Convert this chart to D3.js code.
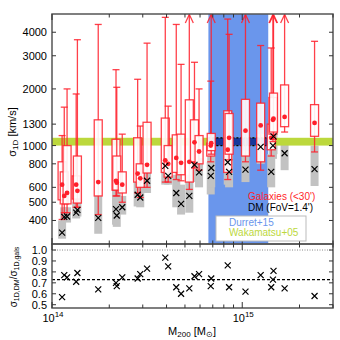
<!DOCTYPE html>
<html>
<head>
<meta charset="utf-8">
<script src="https://cdn.jsdelivr.net/npm/d3@7"></script>
<style>
body { margin: 0; background: #fff; }
svg { font-family: "Liberation Sans", Arial, sans-serif; }
</style>
</head>
<body>
<div id="chart"></div>
<script>
// cluster data (sorted by mass)
const mass     = [1.13e14,1.16e14,1.20e14,1.34e14,1.36e14,1.75e14,2.17e14,2.19e14,2.34e14,2.82e14,
                  2.91e14,3.16e14,3.94e14,4.08e14,4.50e14,4.77e14,5.27e14,5.61e14,5.93e14,6.83e14,
                  6.87e14,8.39e14,8.53e14,1.04e15,1.25e15,1.42e15,1.45e15,1.46e15,1.67e15,2.40e15];
const galSigma = [620,540,560,620,575,640,650,635,620,710, 670,790,835,800,860,810,820,1040,930,1000,
                  1030,950,1100,1200,1280,1100,1370,1390,1420,1320];
const boxLo    = [515,490,490,520,495,540,580,580,560,640, 600,715,720,680,720,700,640,820,800,880,
                  940,720,900,880,820,950,1150,1180,1260,1120];
const boxHi    = [820,725,1000,690,880,1370,1080,880,725,1100, 800,1330,1400,1000,1140,1150,1750,1370,1130,1030,
                  1160,1530,1480,1760,1680,1300,1800,1900,2100,1650];
const whiskLo  = [405,440,440,470,470,430,540,540,500,560, 530,600,640,640,660,650,585,760,740,820,
                  900,660,840,820,740,880,1050,1080,1180,925];
// 9999 = continues above the plotted range (drawn as an arrow)
const whiskHi  = [1130,1600,2000,1880,3650,4400,2530,2040,1150,2250, 1270,3500,4800,1620,4400,2700,9999,2770,2000,2200,
                  9999,4700,3900,9999,3400,3300,9999,9999,9999,3580];
const dmSigma  = [345,418,420,440,455,413,460,425,470,548, 530,650,780,690,560,490,540,790,720,690,
                  760,815,725,745,985,725,1000,1120,910,750];
const greyLo   = [320,395,390,410,420,340,380,370,430,475, 470,560,620,620,470,430,440,640,600,550,
                  600,620,600,640,800,600,850,900,740,610];
const greyHi   = [400,470,470,500,520,540,580,560,540,640, 620,745,850,800,700,620,700,950,860,820,
                  900,1000,900,940,1150,900,1200,1300,1060,1000];
const ratio    = [0.57,0.77,0.75,0.71,0.79,0.64,0.70,0.67,0.75,0.74, 0.78,0.83,0.93,0.85,0.66,0.60,0.65,0.76,0.78,0.67,
                  0.74,0.86,0.66,0.62,0.77,0.66,0.73,0.81,0.65,0.58];

// literature ranges
const durretMass  = [6.64e14, 1.37e15];
const durretSigma = [1000, 1100];
const wakaSigma   = [1000, 1100];
const meanRatio   = 0.73;

const sigmaTicks = [400,500,600,800,1000,1300,2000,3000,4000];
const ratioTicks = [0.5,0.6,0.7,0.8,0.9,1.0];
const massMajor  = [1e14, 1e15];
const massMinor  = [2e14,3e14,4e14,5e14,6e14,7e14,8e14,9e14,2e15,3e15];

const red = "#ff1f2a";
const frameCol = "#555";

////////////////////////////////////////////////////////////////////////
let svg = d3.select("#chart").append("svg")
  .attr("width", 340).attr("height", 340);

let pLeft = 52, pRight = 333, pTop = 14, pMid = 244, pBottom = 308;

let xScale = d3.scaleLog().domain([1e14, 3e15]).range([pLeft, pRight]);
let yScale = d3.scaleLog().domain([300, 5000]).range([pMid, pTop]);
let rScale = d3.scaleLinear().domain([0.47, 1.055]).range([pBottom, pMid]);

svg.append("clipPath").attr("id", "clipTop")
  .append("rect").attr("x", pLeft).attr("y", pTop).attr("width", pRight-pLeft).attr("height", pMid-pTop);

let topG = svg.append("g").attr("clip-path", "url(#clipTop)");

// Durret+15 mass range
topG.append("rect")
  .attr("x", xScale(durretMass[0])).attr("y", pTop)
  .attr("width", xScale(durretMass[1]) - xScale(durretMass[0]))
  .attr("height", pMid - pTop)
  .attr("fill", "#6a96ec");

// grey DM bars
topG.append("g").selectAll("rect")
  .data(mass).enter().append("rect")
  .attr("x", d => xScale(d) - 4)
  .attr("y", (d,i) => yScale(greyHi[i]))
  .attr("width", 8)
  .attr("height", (d,i) => yScale(greyLo[i]) - yScale(greyHi[i]))
  .attr("fill", "#c2c2c2");

// Wakamatsu+05 band
topG.append("rect")
  .attr("x", pLeft).attr("width", pRight-pLeft)
  .attr("y", yScale(wakaSigma[1]))
  .attr("height", yScale(wakaSigma[0]) - yScale(wakaSigma[1]))
  .attr("fill", "#bcd83c");

// Durret+15 sigma range
topG.append("rect")
  .attr("x", xScale(durretMass[0])).attr("width", xScale(durretMass[1]) - xScale(durretMass[0]))
  .attr("y", yScale(durretSigma[1]))
  .attr("height", yScale(durretSigma[0]) - yScale(durretSigma[1]))
  .attr("fill", "#15389a");
durretSigma.forEach(function(s){
  topG.append("line")
    .attr("x1", xScale(durretMass[0])).attr("x2", xScale(durretMass[1]))
    .attr("y1", yScale(s)).attr("y2", yScale(s))
    .attr("stroke", "black").attr("stroke-width", 1.2)
    .attr("stroke-dasharray", "2,2");
});

// galaxy whiskers + boxes
let gal = topG.append("g").attr("stroke", red).attr("stroke-opacity", 0.85).attr("stroke-width", 1.3);
mass.forEach(function(m, i) {
  let x = xScale(m);
  let hiY = whiskHi[i] > 5000 ? pTop : yScale(whiskHi[i]);
  gal.append("line").attr("x1", x).attr("x2", x)
    .attr("y1", yScale(whiskLo[i])).attr("y2", hiY);
  gal.append("line").attr("x1", x-3.5).attr("x2", x+3.5)
    .attr("y1", yScale(whiskLo[i])).attr("y2", yScale(whiskLo[i]));
  if (whiskHi[i] > 5000) {
    gal.append("path").attr("fill", "none")
      .attr("d", "M" + (x-4) + "," + (pTop+9) + " L" + x + "," + (pTop+0.5) + " L" + (x+4) + "," + (pTop+9));
  } else {
    gal.append("line").attr("x1", x-3.5).attr("x2", x+3.5)
      .attr("y1", hiY).attr("y2", hiY);
  }
  gal.append("rect")
    .attr("x", x-4).attr("width", 8)
    .attr("y", yScale(boxHi[i]))
    .attr("height", yScale(boxLo[i]) - yScale(boxHi[i]))
    .attr("fill", "white").attr("fill-opacity", 0.9);
});

topG.append("g").selectAll("circle")
  .data(mass).enter().append("circle")
  .attr("cx", d => xScale(d))
  .attr("cy", (d,i) => yScale(galSigma[i]))
  .attr("r", 2.4)
  .attr("fill", red);

// DM crosses
function cross(g, x, y) {
  g.append("path")
    .attr("d", "M" + (x-3) + "," + (y-3) + " L" + (x+3) + "," + (y+3) +
               " M" + (x-3) + "," + (y+3) + " L" + (x+3) + "," + (y-3))
    .attr("stroke", "black").attr("stroke-width", 1.2);
}
let crossG = topG.append("g");
mass.forEach((m, i) => cross(crossG, xScale(m), yScale(dmSigma[i])));

// bottom panel
let botG = svg.append("g");
botG.append("line")
  .attr("x1", pLeft).attr("x2", pRight)
  .attr("y1", rScale(1)).attr("y2", rScale(1))
  .attr("stroke", "#888").attr("stroke-width", 1).attr("stroke-dasharray", "1,1.5");
botG.append("line")
  .attr("x1", pLeft).attr("x2", pRight)
  .attr("y1", rScale(meanRatio)).attr("y2", rScale(meanRatio))
  .attr("stroke", "black").attr("stroke-width", 1.2).attr("stroke-dasharray", "3,2");
mass.forEach((m, i) => cross(botG, xScale(m), rScale(ratio[i])));

////////////////////////////////////////////////////////////////////////
// frames and ticks
function frame(y0, y1) {
  svg.append("rect")
    .attr("x", pLeft).attr("y", y0).attr("width", pRight-pLeft).attr("height", y1-y0)
    .attr("fill", "none").attr("stroke", frameCol).attr("stroke-width", 1.5);
}
frame(pTop, pMid);
frame(pMid, pBottom);

let tickG = svg.append("g").attr("stroke", "#333").attr("stroke-width", 1);
function xTicks(vals, len, y0, y1) {
  vals.forEach(function(v) {
    let x = xScale(v);
    tickG.append("line").attr("x1", x).attr("x2", x).attr("y1", y0).attr("y2", y0 + len);
    tickG.append("line").attr("x1", x).attr("x2", x).attr("y1", y1).attr("y2", y1 - len);
  });
}
xTicks(massMajor, 6, pTop, pMid);
xTicks(massMinor, 3.5, pTop, pMid);
xTicks(massMajor, 6, pMid, pBottom);
xTicks(massMinor, 3.5, pMid, pBottom);

sigmaTicks.forEach(function(v) {
  let y = yScale(v);
  tickG.append("line").attr("x1", pLeft).attr("x2", pLeft+4).attr("y1", y).attr("y2", y);
  tickG.append("line").attr("x1", pRight).attr("x2", pRight-4).attr("y1", y).attr("y2", y);
});
ratioTicks.forEach(function(v) {
  let y = rScale(v);
  tickG.append("line").attr("x1", pLeft).attr("x2", pLeft+4).attr("y1", y).attr("y2", y);
  tickG.append("line").attr("x1", pRight).attr("x2", pRight-4).attr("y1", y).attr("y2", y);
});

// tick labels
svg.append("g").selectAll("text")
  .data(sigmaTicks).enter().append("text")
  .attr("x", pLeft - 5).attr("y", d => yScale(d) + 4)
  .attr("text-anchor", "end").attr("font-size", 11)
  .text(d => d);
svg.append("g").selectAll("text")
  .data(ratioTicks).enter().append("text")
  .attr("x", pLeft - 5).attr("y", d => rScale(d) + 4)
  .attr("text-anchor", "end").attr("font-size", 11)
  .text(d => d.toFixed(1));
massMajor.forEach(function(v) {
  let t = svg.append("text")
    .attr("x", xScale(v) + 1).attr("y", 322)
    .attr("text-anchor", "middle").attr("font-size", 11);
  t.append("tspan").text("10");
  t.append("tspan").attr("dy", -5).attr("font-size", 8).text(Math.round(Math.log10(v)));
});

// axis titles
let xl = svg.append("text").attr("x", 192).attr("y", 335)
  .attr("text-anchor", "middle").attr("font-size", 11);
xl.append("tspan").text("M");
xl.append("tspan").attr("dy", 2).attr("font-size", 8).text("200");
xl.append("tspan").attr("dy", -2).text(" [M");
xl.append("tspan").attr("dy", 2).attr("font-size", 8).text("\u2299");
xl.append("tspan").attr("dy", -2).text("]");

let yl = svg.append("text").attr("transform", "translate(16,132) rotate(-90)")
  .attr("text-anchor", "middle").attr("font-size", 11);
yl.append("tspan").text("\u03c3");
yl.append("tspan").attr("dy", 2).attr("font-size", 8).text("1D");
yl.append("tspan").attr("dy", -2).text(" [km/s]");

let rl = svg.append("text").attr("transform", "translate(17,277) rotate(-90)")
  .attr("text-anchor", "middle").attr("font-size", 10);
rl.append("tspan").text("\u03c3");
rl.append("tspan").attr("dy", 2).attr("font-size", 7).text("1D,DM");
rl.append("tspan").attr("dy", -2).text("/\u03c3");
rl.append("tspan").attr("dy", 2).attr("font-size", 7).text("1D,gals");

// legends
svg.append("text").attr("x", 248).attr("y", 200).attr("font-size", 10)
  .attr("fill", red).text("Galaxies (<30')");
svg.append("text").attr("x", 248).attr("y", 211).attr("font-size", 10)
  .attr("fill", "black").text("DM (FoV=1.4')");
svg.append("rect").attr("x", 216).attr("y", 216).attr("width", 90).attr("height", 25)
  .attr("fill", "white").attr("stroke", "#bbb").attr("stroke-width", 1);
svg.append("text").attr("x", 229).attr("y", 226).attr("font-size", 10)
  .attr("fill", "#6a96ec").text("Durret+15");
svg.append("text").attr("x", 229).attr("y", 236).attr("font-size", 10)
  .attr("fill", "#bcd83c").text("Wakamatsu+05");
</script>
</body>
</html>
